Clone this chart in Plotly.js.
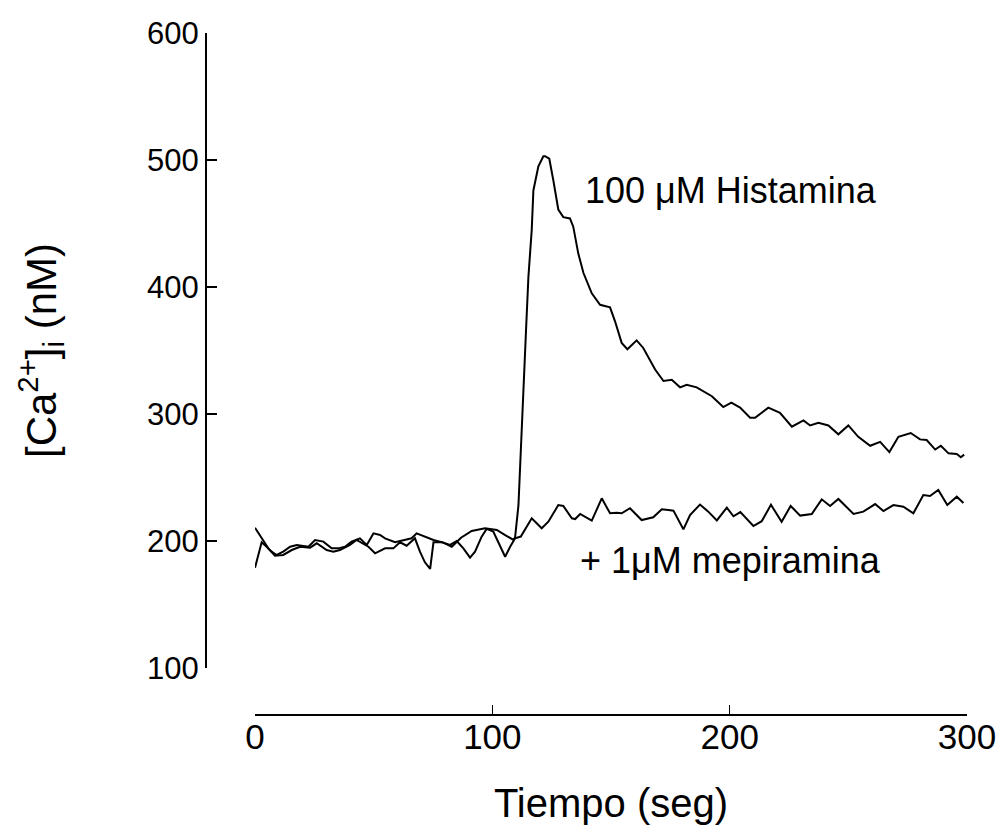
<!DOCTYPE html>
<html>
<head>
<meta charset="utf-8">
<script src="https://cdn.plot.ly/plotly-3.0.1.min.js"></script>
<style>html,body{margin:0;padding:0;background:#fff;}#chart{width:1002px;height:825px;}</style>
</head>
<body>
<div id="chart"></div>
<script>
// Histamine trace (time in s, [Ca2+]i in nM)
const histT = [0, 2.8, 4.9, 7.0, 9.1, 11.9, 14.8, 17.6, 22.5, 25.3, 28.8, 32.3, 35.1, 37.9, 40.7, 44.2, 47.1, 49.9, 52.7,
  54.8, 59.0, 63.2, 66.0, 68.1, 71.6, 75.2, 79.4, 82.9, 86.8, 91.3, 96.9, 101.9, 105.4, 108.9, 109.6, 111.0, 114.2, 115.2,
  116.6, 117.3, 119.4, 121.5, 122.2, 124.0, 125.7, 127.8, 129.9, 132.7, 134.1, 136.2, 138.4, 141.9, 145.4, 149.6, 151.7,
  154.5, 156.9, 160.8, 163.6, 168.6, 172.1, 175.6, 179.1, 181.9, 186.1, 192.5, 197.3, 200.7, 204.4, 208.6, 210.7, 216.3,
  221.2, 226.2, 231.1, 233.9, 237.4, 241.6, 245.8, 250.0, 254.2, 259.2, 263.4, 267.3, 271.1, 276.3, 280.2, 283.0, 286.6,
  289.0, 292.2, 295.7, 297.4, 298.8];
const histCa = [179, 199, 195.5, 191.6, 189, 191.6, 195.5, 196.9, 195.5, 200.8, 199.5, 194.2, 194.2, 195.5, 199.5, 202.1, 196.9, 206, 204.7,
  202.1, 199, 200.8, 202.1, 206, 203.4, 200.8, 198.7, 195.5, 202.6, 207.9, 210, 208.7, 204.7, 200.8, 203, 228, 366, 408,
  445, 476, 495, 503, 503, 501, 484, 461, 455, 454, 447.5, 426.5, 411, 395, 386, 384, 373,
  356, 351, 358, 352, 335, 326, 327, 321, 323, 321, 314, 305.5, 309, 305, 297, 297, 305,
  301, 290, 295, 291, 293, 291, 284, 291, 282, 275, 278, 270, 282, 285, 280, 279.5, 272,
  275, 269, 268.5, 266, 268];

// Histamine + mepyramine trace
const mepT = [0, 3.5, 5.6, 8.4, 11.9, 15.5, 19.0, 23.2, 26.0, 30.2, 33.0, 35.8, 40.0, 42.8, 47.8, 50.6, 54.8, 58.3, 61.1,
  63.9, 67.4, 69.5, 71.6, 73.8, 75.2, 78.7, 82.2, 85.0, 87.8, 90.6, 92.7, 95.5, 97.6, 100.4, 103.3, 105.4, 107.5, 109.6,
  112.0, 116.6, 120.8, 123.6, 127.8, 129.9, 133.5, 134.9, 137.0, 141.9, 146.1, 149.6, 152.4, 154.5, 158.0, 162.9, 167.8,
  171.4, 174.2, 176.3, 180.5, 183.3, 187.5, 191.0, 194.6, 198.8, 201.6, 204.5, 210.0, 213.5, 217.4, 221.9, 225.7, 229.7,
  234.6, 238.8, 242.3, 245.8, 252.2, 256.3, 261.3, 264.8, 269.0, 273.2, 277.4, 281.6, 284.4, 287.9, 291.7, 295.7, 298.5];
const mepCa = [210.5, 200.8, 194.2, 188.5, 189, 192.9, 195.5, 194.8, 198.2, 192.9, 191.6, 192.9, 196.9, 200.8, 195.5, 190.3, 194.2, 194.2, 199,
  196.3, 202.1, 191.6, 183.2, 178, 199, 199, 196.9, 200, 194.2, 186.9, 191.6, 203.4, 209.5, 207.4, 195.5, 187.6, 195.5, 202.1,
  203.5, 217.9, 210, 215.2, 228.3, 227.6, 217.9, 217.3, 221.3, 216, 233.6, 221.8, 222.3, 221.8, 225.8, 216.5, 218.7,
  225, 224.4, 223.9, 209.2, 220.5, 228.7, 223.1, 216.2, 226.3, 219.5, 222.8, 211.8, 215.6, 228.5, 215.2, 227.6, 220,
  221.3, 232.8, 227.6, 233.1, 221.3, 223.1, 229.1, 223.6, 228.3, 227, 221.8, 236.2, 235.4, 240.2, 228.3, 234.9, 230];

const xTicks = [0, 100, 200, 300];
const yTicks = [100, 200, 300, 400, 500, 600];
const labelHist = '100 \u03BCM Histamina';
const labelMep = '+ 1\u03BCM mepiramina';
const labelHistPos = [138, 476];
const labelMepPos = [136, 185];

const FONT = 'Liberation Sans, Arial, Helvetica, sans-serif';

const traces = [
  {x: histT, y: histCa, type: 'scatter', mode: 'lines', line: {color: '#000', width: 2}, hoverinfo: 'skip'},
  {x: mepT, y: mepCa, type: 'scatter', mode: 'lines', line: {color: '#000', width: 2}, hoverinfo: 'skip'}
];

const layout = {
  width: 1002, height: 825,
  margin: {l: 205, r: 35, t: 33, b: 111},
  paper_bgcolor: '#fff', plot_bgcolor: '#fff',
  showlegend: false,
  font: {family: FONT, color: '#000'},
  xaxis: {
    domain: [50 / 762, 1], anchor: 'free', position: 0,
    range: [0, 300], tickvals: xTicks, ticktext: xTicks.map(String),
    showgrid: false, zeroline: false, showline: true, linecolor: '#000', linewidth: 1.5,
    ticks: 'inside', ticklen: 9, tickwidth: 1.5, tickcolor: '#000',
    ticklabelstandoff: -9,
    tickfont: {family: FONT, size: 35, color: '#000'},
    title: {text: 'Tiempo (seg)', font: {family: FONT, size: 40, color: '#000'}, standoff: 34}
  },
  yaxis: {
    domain: [46 / 681, 1], anchor: 'free', position: 0,
    range: [100, 600], tickvals: yTicks, ticktext: yTicks.map(String),
    showgrid: false, zeroline: false, showline: true, linecolor: '#000', linewidth: 1.5,
    ticks: 'inside', ticklen: 10, tickwidth: 1.5, tickcolor: '#000',
    tickfont: {family: FONT, size: 31, color: '#000'},
    title: {text: '[Ca<sup>2+</sup>]<sub>i</sub> (nM)', font: {family: FONT, size: 42, color: '#000'}, standoff: 76}
  },
  annotations: [
    {x: labelHistPos[0], y: labelHistPos[1], xref: 'x', yref: 'y', text: labelHist, showarrow: false,
     xanchor: 'left', yanchor: 'middle', font: {family: FONT, size: 36, color: '#000'}},
    {x: labelMepPos[0], y: labelMepPos[1], xref: 'x', yref: 'y', text: labelMep, showarrow: false,
     xanchor: 'left', yanchor: 'middle', font: {family: FONT, size: 36, color: '#000'}}
  ]
};

Plotly.newPlot('chart', traces, layout, {staticPlot: true, displayModeBar: false});
</script>
</body>
</html>
